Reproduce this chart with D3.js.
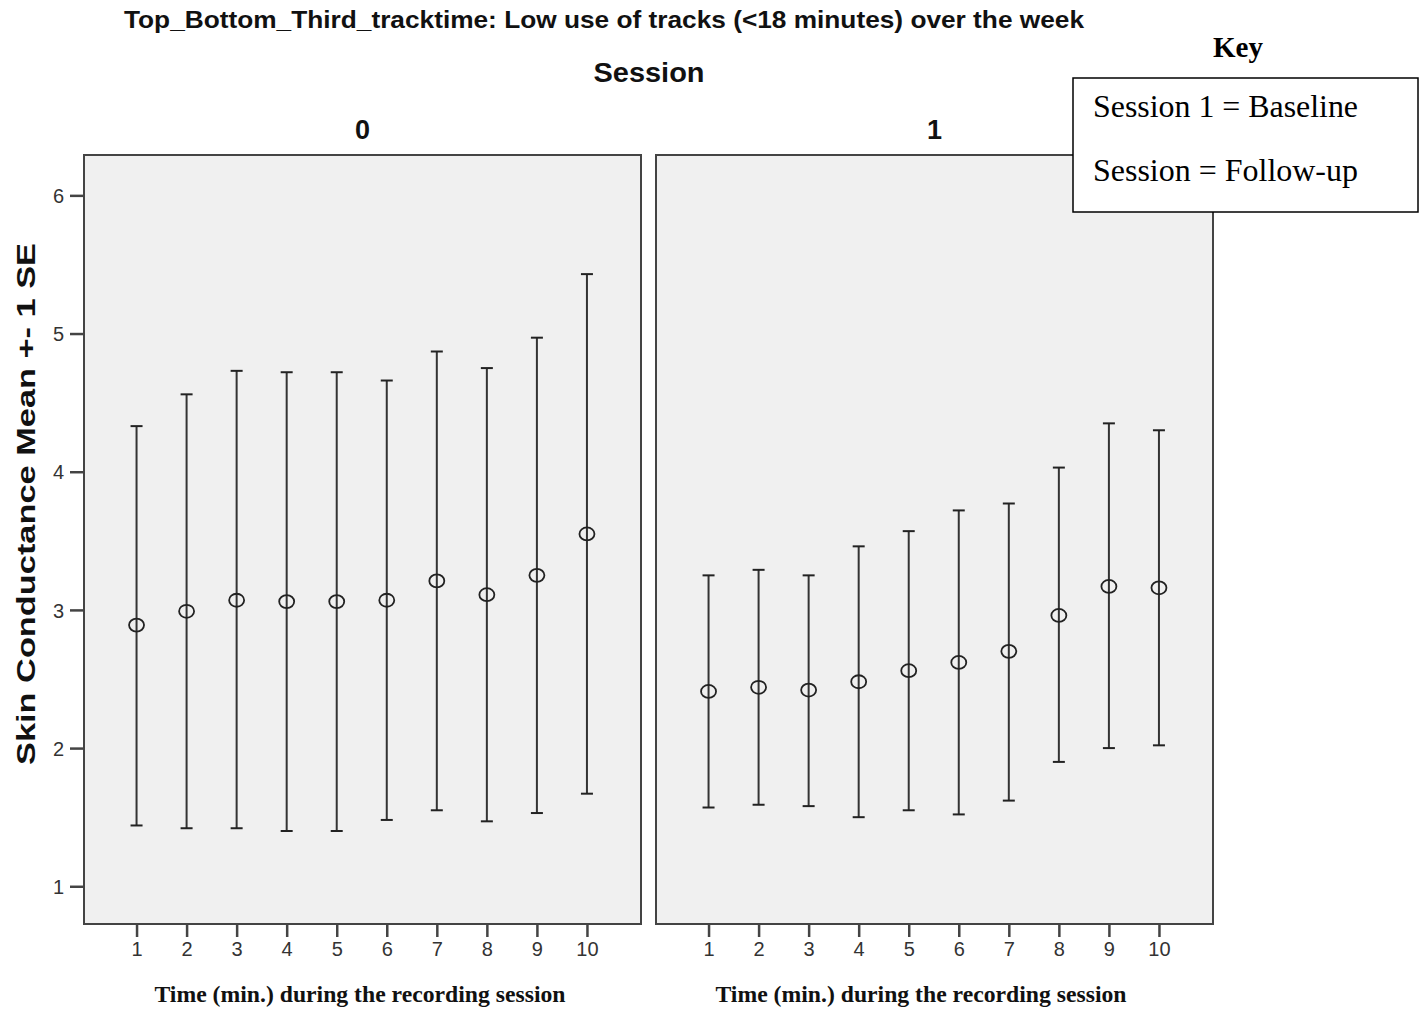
<!DOCTYPE html>
<html lang='en'>
	<head>
		<meta http-equiv='Content-Type' content='text/html;charset=utf-8'/>
		<title>Skin Conductance by Session</title>
		<script src='https://d3js.org/d3.v7.min.js'></script>
		<style>
			body { margin: 0; background: #ffffff; }
		</style>
	</head>

	<body>
	<script>
	'use strict'
		// data
		const times = [1, 2, 3, 4, 5, 6, 7, 8, 9, 10]
		const sessions = ['0', '1']
		const yTicks = [1, 2, 3, 4, 5, 6]

		const mean0  = [2.89, 2.99, 3.07, 3.06, 3.06, 3.07, 3.21, 3.11, 3.25, 3.55]
		const upper0 = [4.33, 4.56, 4.73, 4.72, 4.72, 4.66, 4.87, 4.75, 4.97, 5.43]
		const lower0 = [1.44, 1.42, 1.42, 1.40, 1.40, 1.48, 1.55, 1.47, 1.53, 1.67]

		const mean1  = [2.41, 2.44, 2.42, 2.48, 2.56, 2.62, 2.70, 2.96, 3.17, 3.16]
		const upper1 = [3.25, 3.29, 3.25, 3.46, 3.57, 3.72, 3.77, 4.03, 4.35, 4.30]
		const lower1 = [1.57, 1.59, 1.58, 1.50, 1.55, 1.52, 1.62, 1.90, 2.00, 2.02]

		const seriesMean = [mean0, mean1]
		const seriesUpper = [upper0, upper1]
		const seriesLower = [lower0, lower1]

		const width = 1426
		const height = 1013
		const panelLeft = [84, 656]
		const panelWidth = 557
		const panelTop = 155
		const panelBottom = 924
		const xLabelCenter = [360, 921]		// the time captions sit a little off the panel centres

		const svg = d3.select('body').append('svg')
			.attr('width', width)
			.attr('height', height)

		svg.append('rect')
			.attr('width', '100%')
			.attr('height', '100%')
			.attr('fill', '#ffffff')

		const y = d3.scaleLinear()
			.domain([0.727, 6.292])
			.range([panelBottom, panelTop])

		// titles
		svg.append('text')
			.attr('x', 604)
			.attr('y', 28)
			.attr('text-anchor', 'middle')
			.attr('font-family', 'Liberation Sans, Arial, sans-serif')
			.attr('font-weight', 'bold')
			.attr('font-size', 24)
			.attr('textLength', 960)
			.attr('lengthAdjust', 'spacingAndGlyphs')
			.attr('fill', '#111')
			.text('Top_Bottom_Third_tracktime: Low use of tracks (<18 minutes) over the week')

		svg.append('text')
			.attr('x', 649)
			.attr('y', 82)
			.attr('text-anchor', 'middle')
			.attr('font-family', 'Liberation Sans, Arial, sans-serif')
			.attr('font-weight', 'bold')
			.attr('font-size', 27)
			.attr('textLength', 111)
			.attr('lengthAdjust', 'spacingAndGlyphs')
			.attr('fill', '#111')
			.text('Session')

		svg.append('text')
			.attr('transform', 'translate(35,504) rotate(-90)')
			.attr('text-anchor', 'middle')
			.attr('font-family', 'Liberation Sans, Arial, sans-serif')
			.attr('font-weight', 'bold')
			.attr('font-size', 26)
			.attr('textLength', 522)
			.attr('lengthAdjust', 'spacingAndGlyphs')
			.attr('fill', '#111')
			.text('Skin Conductance Mean +- 1 SE')

		/**
		 * drawPanel
		 * One facet: frame, axes, error bars and mean circles.
		 */
		function drawPanel(p)
		{
			const x0 = panelLeft[p]
			const x = d3.scaleLinear()
				.domain([-0.05, 11.08])
				.range([x0, x0 + panelWidth])

			const g = svg.append('g')

			g.append('text')
				.attr('x', x0 + panelWidth / 2)
				.attr('y', 139)
				.attr('text-anchor', 'middle')
				.attr('font-family', 'Liberation Sans, Arial, sans-serif')
				.attr('font-weight', 'bold')
				.attr('font-size', 27)
				.attr('fill', '#111')
				.text(sessions[p])

			g.append('rect')
				.attr('x', x0)
				.attr('y', panelTop)
				.attr('width', panelWidth)
				.attr('height', panelBottom - panelTop)
				.attr('fill', '#f0f0f0')
				.attr('stroke', '#444')
				.attr('stroke-width', 2)

			const xAxis = g.append('g')
				.attr('transform', 'translate(0,' + panelBottom + ')')
				.call(d3.axisBottom(x).tickValues(times).tickSize(13).tickPadding(5).tickFormat(d3.format('d')))
			xAxis.select('.domain').remove()
			styleAxis(xAxis)

			if (p == 0)
			{
				const yAxis = g.append('g')
					.attr('transform', 'translate(' + x0 + ',0)')
					.call(d3.axisLeft(y).tickValues(yTicks).tickSize(14).tickPadding(6).tickFormat(d3.format('d')))
				yAxis.select('.domain').remove()
				styleAxis(yAxis)
				yAxis.selectAll('text').attr('dy', '0.36em')
			}

			const rows = times.map(function(t, i) {
				return {t: t, mean: seriesMean[p][i], hi: seriesUpper[p][i], lo: seriesLower[p][i]}
			})

			const bars = g.selectAll('.bar').data(rows).enter().append('g')
				.attr('class', 'bar')

			bars.append('line')
				.attr('x1', function(d) { return x(d.t) })
				.attr('x2', function(d) { return x(d.t) })
				.attr('y1', function(d) { return y(d.hi) })
				.attr('y2', function(d) { return y(d.lo) })
				.attr('stroke', '#333')
				.attr('stroke-width', 2)

			bars.append('line')
				.attr('x1', function(d) { return x(d.t) - 6 })
				.attr('x2', function(d) { return x(d.t) + 6 })
				.attr('y1', function(d) { return y(d.hi) })
				.attr('y2', function(d) { return y(d.hi) })
				.attr('stroke', '#222')
				.attr('stroke-width', 2)

			bars.append('line')
				.attr('x1', function(d) { return x(d.t) - 6 })
				.attr('x2', function(d) { return x(d.t) + 6 })
				.attr('y1', function(d) { return y(d.lo) })
				.attr('y2', function(d) { return y(d.lo) })
				.attr('stroke', '#222')
				.attr('stroke-width', 2)

			bars.append('ellipse')
				.attr('cx', function(d) { return x(d.t) })
				.attr('cy', function(d) { return y(d.mean) })
				.attr('rx', 7.5)
				.attr('ry', 6.5)
				.attr('fill', 'none')
				.attr('stroke', '#222')
				.attr('stroke-width', 1.8)

			g.append('text')
				.attr('x', xLabelCenter[p])
				.attr('y', 1002)
				.attr('text-anchor', 'middle')
				.attr('font-family', 'Liberation Serif, Times New Roman, serif')
				.attr('font-weight', 'bold')
				.attr('font-size', 23)
				.attr('textLength', 411)
				.attr('lengthAdjust', 'spacingAndGlyphs')
				.attr('fill', '#111')
				.text('Time (min.) during the recording session')
		}

		function styleAxis(a)
		{
			a.selectAll('.tick line')
				.attr('stroke', '#444')
				.attr('stroke-width', 2.5)
			a.selectAll('text')
				.attr('font-family', 'Liberation Sans, Arial, sans-serif')
				.attr('font-size', 20)
				.attr('fill', '#333')
		}

		drawPanel(0)
		drawPanel(1)

		// key box drawn on top of the right panel
		svg.append('text')
			.attr('x', 1238)
			.attr('y', 57)
			.attr('text-anchor', 'middle')
			.attr('font-family', 'Liberation Serif, Times New Roman, serif')
			.attr('font-weight', 'bold')
			.attr('font-size', 29)
			.attr('fill', '#000')
			.text('Key')

		svg.append('rect')
			.attr('x', 1073)
			.attr('y', 78)
			.attr('width', 345)
			.attr('height', 134)
			.attr('fill', '#ffffff')
			.attr('stroke', '#000')
			.attr('stroke-width', 1.5)

		const keyLines = ['Session 1 = Baseline', 'Session = Follow-up']
		const keyLengths = [265, 265]
		svg.selectAll('.key').data(keyLines).enter().append('text')
			.attr('class', 'key')
			.attr('x', 1093)
			.attr('y', function(d, i) { return 117 + i * 64 })
			.attr('font-family', 'Liberation Serif, Times New Roman, serif')
			.attr('font-size', 31)
			.attr('textLength', function(d, i) { return keyLengths[i] })
			.attr('lengthAdjust', 'spacingAndGlyphs')
			.attr('fill', '#000')
			.text(function(d) { return d })
	</script>
	</body>
</html>
